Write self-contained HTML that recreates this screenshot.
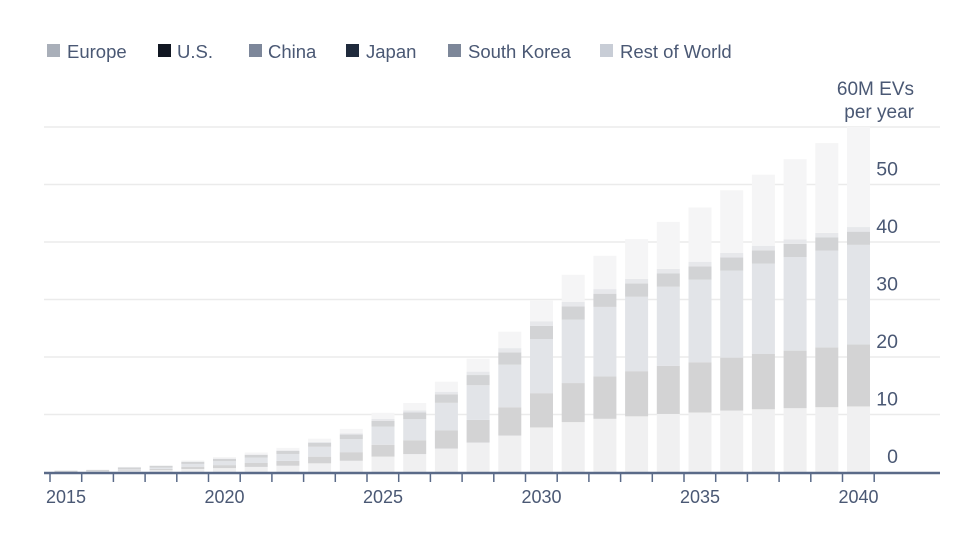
<!DOCTYPE html>
<html><head><meta charset="utf-8"><style>
body{margin:0;background:#fff;width:960px;height:540px;overflow:hidden;font-family:"Liberation Sans",sans-serif}
</style></head><body>
<svg id="s" width="960" height="540" xmlns="http://www.w3.org/2000/svg" font-family="Liberation Sans, sans-serif">
<g font-size="18.5" fill="#4a5874">
<rect x="47" y="44" width="13" height="13" fill="#a9afb9"/><text x="67" y="58">Europe</text>
<rect x="158" y="44" width="13" height="13" fill="#111722"/><text x="177" y="58">U.S.</text>
<rect x="249" y="44" width="13" height="13" fill="#7d879a"/><text x="268" y="58">China</text>
<rect x="346" y="44" width="13" height="13" fill="#1f2a3c"/><text x="366" y="58">Japan</text>
<rect x="448" y="44" width="13" height="13" fill="#7d8799"/><text x="468" y="58">South Korea</text>
<rect x="600" y="44" width="13" height="13" fill="#c8cdd6"/><text x="620" y="58">Rest of World</text>
<text x="914" y="95" text-anchor="end" font-size="19">60M EVs</text>
<text x="914" y="118" text-anchor="end" font-size="19">per year</text>
</g>
<g id="grid" stroke="#ebebeb" stroke-width="1.5"></g>
<g id="bars"></g>
<g id="yl" font-size="19.5" fill="#4a5874" text-anchor="end"></g>
<line x1="44" y1="473" x2="940" y2="473" stroke="#5a6a88" stroke-width="2.5"/>
<g id="ticks" stroke="#5a6a88" stroke-width="1.5"></g>
<g id="xl" font-size="18" fill="#4a5874" text-anchor="middle"></g>
</svg>
<script>
var NS="http://www.w3.org/2000/svg";
function el(p,t,a,tx){var e=document.createElementNS(NS,t);for(var k in a)e.setAttribute(k,a[k]);if(tx!==undefined)e.textContent=tx;document.getElementById(p).appendChild(e);}
var base=472,u=5.75;
for(var i=1;i<=6;i++){el("grid","line",{x1:44,x2:940,y1:base-i*10*u,y2:base-i*10*u});}
for(var i=0;i<=5;i++){el("yl","text",{x:898,y:base-i*10*u-9},String(i*10));}
var tot=[0.05,0.3,0.9,1.2,2,2.6,3.4,4.2,5.8,7.5,10.3,12,15.7,19.7,24.4,29.8,34.3,37.6,40.5,43.5,46,49,51.7,54.4,57.2,60];
for(var k=0;k<26;k++){
 var y=2015+k,T=tot[k],cx=66+31.7*k,x=cx-11.5;
 var f1=y<2030?0.26:0.26-0.07*(y-2030)/10;
 var f2=y<2030?0.2:0.2-0.02*(y-2030)/10;
 var ftop=y<=2030?0.09+0.03*Math.max(0,(y-2020)/10):0.12+0.17*(y-2030)/10;
 var band=Math.min(2.3,0.08*T+0.2), thin=Math.min(0.8,0.03*T);
 var v1=T*f1,v2=T*f2,vt=T*ftop,v3=T-v1-v2-vt-band-thin;
 if(v3<0){v3=0;}
 var segs=[[v1,"#f0f0f1"],[v2,"#d3d3d4"],[v3,"#e2e4e8"],[band,"#d2d3d5"],[thin,"#e7e8eb"],[T-v1-v2-v3-band-thin,"#f5f5f6"]];
 var cur=0;
 segs.forEach(function(s){if(s[0]<=0)return;el("bars","rect",{x:x,width:23,y:base-(cur+s[0])*u,height:s[0]*u,fill:s[1]});cur+=s[0];});
}
for(var k=0;k<=26;k++){el("ticks","line",{x1:50+31.7*k,x2:50+31.7*k,y1:474,y2:482});}
for(var k=0;k<=5;k++){el("xl","text",{x:66+158.5*k,y:503},String(2015+5*k));}
</script>
</body></html>
